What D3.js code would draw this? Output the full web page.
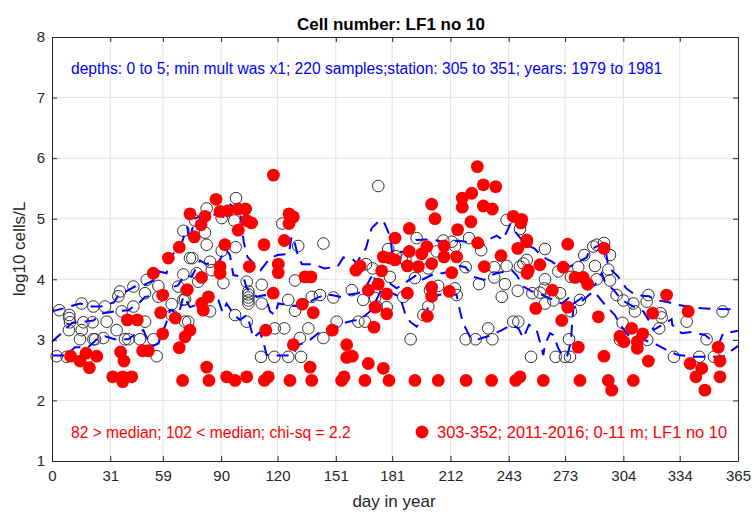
<!DOCTYPE html>
<html>
<head>
<meta charset="utf-8">
<script src="https://cdn.jsdelivr.net/npm/d3@7"></script>
<style>
body { margin: 0; background: #fff; }
text { font-family: "Liberation Sans", Arial, sans-serif; }
</style>
</head>
<body>
<div id="chart"></div>
<script>
// tick values
const xTicks = [0, 31, 59, 90, 120, 151, 181, 212, 243, 273, 304, 334, 365];
const yTicks = [1, 2, 3, 4, 5, 6, 7, 8];

// historical samples 1979-1981 [day, log10 cells/L]
const histPoints = [
    [3.9,3.49],[9.2,3.41],[9.6,3.29],[9.0,3.16],[9.2,3.36],[15.8,3.60],[16.7,3.29],[15.8,3.16],[14.9,3.01],
    [22.0,3.55],[21.6,3.29],[22.0,3.01],[22.9,3.01],[28.2,3.55],[29.1,3.30],[27.3,3.03],[34.4,3.16],
    [35.3,3.72],[36.2,3.80],[37.1,3.47],[40.6,3.01],[38.8,3.01],[43.3,3.88],[43.3,3.55],[46.8,3.01],
    [49.5,3.30],[50.4,3.99],[49.5,3.77],[53.9,3.01],[55.7,2.73],[56.6,3.89],[56.6,3.71],[63.7,3.59],
    [63.7,3.41],[67.2,3.88],[69.9,4.08],[70.8,3.30],[69.9,3.66],[69.9,4.80],[73.4,4.35],[2.5,2.73],
    [7.8,2.72],[19.3,2.72],
    [97.9,5.34],[82.3,5.17],[76.1,4.97],[90.3,5.01],[97.0,4.97],[81.4,4.77],[82.3,4.57],[90.3,4.47],
    [97.7,4.53],[74.7,4.35],[84.1,4.29],[85.0,4.15],[77.0,4.10],[77.8,3.96],[91.2,3.94],[71.6,3.82],
    [70.8,3.67],[84.1,3.47],[72.5,3.30],[97.4,3.41],[103.6,3.30],[104.5,3.80],[104.5,3.75],[104.5,3.70],
    [104.5,3.65],[104.5,3.60],[103.6,3.96],[111.6,3.91],[111.6,3.60],[118.6,3.19],[123.6,3.19],[111.2,2.72],
    [118.3,2.72],[125.7,2.72],[132.5,2.72],[122.5,4.92],[131.0,4.55],[129.3,3.98],[125.7,3.66],
    [129.3,3.48],[138.2,3.71],[142.6,3.74],[136.4,3.19],[144.4,4.59],[144.4,3.03],[131.9,3.03],
    [173.6,5.54],[194.0,4.68],[178.9,4.50],[186.1,4.35],[183.0,4.38],[188.0,4.33],[204.7,4.46],
    [208.2,4.64],[212.7,4.62],[214.4,4.55],[167.1,4.25],[170.6,4.18],[179.8,4.04],[193.1,4.02],
    [200.2,4.18],[201.1,3.82],[205.5,3.89],[214.4,3.85],[159.5,3.82],[149.7,3.70],[165.6,3.66],
    [186.9,3.71],[172.8,3.55],[200.2,3.55],[197.6,3.41],[151.5,3.30],[163.0,3.30],[166.5,3.30],
    [190.8,3.01],[171.9,3.69],[178.1,3.54],
    [241.9,4.98],[249.0,4.83],[221.9,4.68],[228.3,4.48],[262.3,4.50],[252.6,4.32],[250.8,4.26],
    [249.0,4.21],[241.9,4.22],[235.3,4.20],[220.1,4.20],[262.3,4.00],[269.4,4.13],[276.1,4.04],
    [283.2,4.40],[288.0,4.54],[280.0,4.20],[241.0,3.92],[235.3,4.03],[227.2,3.92],[215.3,3.74],
    [239.3,3.71],[247.8,3.81],[255.6,3.77],[259.6,3.78],[262.0,3.85],[262.3,3.60],[266.8,3.65],
    [270.3,3.77],[280.9,3.66],[276.1,3.47],[220.1,3.01],[225.4,3.01],[234.3,3.01],[232.1,3.19],
    [245.4,3.30],[248.1,3.30],[254.9,2.72],[268.0,2.72],[272.9,2.72],[275.6,2.72],[275.1,3.01],
    [289.8,4.57],[293.7,4.60],[296.9,4.40],[288.9,4.22],[296.0,4.16],[289.8,4.00],[296.9,3.98],
    [300.4,3.74],[304.0,3.65],[309.3,3.60],[310.2,3.47],[317.3,3.74],[316.4,3.63],[323.8,3.44],
    [324.4,3.37],[323.1,3.19],[316.7,3.00],[303.6,3.28],[302.2,3.00],[337.7,3.30],[348.3,3.01],
    [330.9,2.72],[344.4,2.72],[352.2,2.72],[356.8,3.47]
];

// samples 2011-2016 [day, log10 cells/L]
const newPoints = [
    [9.9,2.73],[14.9,2.65],[18.1,2.78],[19.9,2.54],[23.8,2.73],[32.3,2.39],[37.6,2.39],[37.6,2.31],
    [42.4,2.39],[36.5,2.80],[38.3,2.65],[40.1,3.33],[45.4,3.33],[48.2,2.82],[51.3,2.82],[53.9,4.10],
    [58.9,3.74],[57.8,3.45],[58.9,3.10],[61.9,4.35],[67.7,4.53],[65.6,3.36],[67.7,2.87],[69.5,2.33],
    [73.4,5.08],[72.0,3.83],[70.8,3.05],
    [117.8,5.72],[87.3,5.32],[81.4,5.04],[79.3,4.90],[89.4,5.12],[93.5,5.13],[99.1,5.16],[103.0,5.16],
    [103.6,4.97],[106.2,4.93],[99.1,4.81],[75.7,4.70],[92.0,4.57],[112.8,4.57],[123.6,4.64],[126.1,5.08],
    [128.4,5.03],[126.1,4.92],[89.4,4.21],[89.4,4.10],[105.0,4.21],[120.4,4.25],[120.4,4.11],[79.6,4.03],
    [134.6,4.04],[137.8,4.04],[83.2,3.71],[79.6,3.60],[80.5,3.49],[117.7,3.77],[133.2,3.59],[139.0,3.45],
    [113.7,3.16],[73.4,3.16],[128.4,2.92],[137.3,2.55],[82.3,2.55],[83.5,2.33],[92.9,2.39],[97.4,2.33],
    [103.6,2.39],[113.0,2.33],[115.1,2.39],[126.6,2.33],[138.2,2.33],
    [202.0,5.24],[203.8,5.00],[190.1,4.84],[182.5,4.68],[215.8,4.82],[215.3,4.37],[199.4,4.54],
    [208.6,4.55],[190.1,4.46],[196.7,4.42],[208.6,4.37],[176.3,4.37],[179.8,4.35],[182.5,4.32],
    [202.0,4.26],[163.9,4.22],[161.7,4.15],[175.4,4.14],[189.1,4.22],[194.9,4.21],[212.7,4.11],
    [173.6,3.92],[168.3,3.82],[202.0,3.87],[202.0,3.72],[211.4,3.80],[178.1,3.76],[189.1,3.77],
    [171.9,3.54],[178.1,3.43],[199.7,3.39],[171.3,3.21],[149.1,3.16],[156.8,2.92],[156.8,2.71],
    [159.8,2.73],[168.3,2.61],[176.3,2.53],[154.1,2.33],[155.4,2.39],[166.5,2.33],[179.3,2.33],
    [193.1,2.33],[205.5,2.33],
    [226.3,5.86],[229.5,5.56],[236.1,5.53],[223.3,5.42],[218.3,5.34],[218.3,5.19],[229.5,5.21],
    [234.3,5.16],[222.9,4.95],[245.4,5.04],[249.9,4.99],[249.5,4.93],[226.5,4.60],[252.6,4.65],
    [252.6,4.62],[247.8,4.51],[238.9,4.39],[274.4,4.58],[230.0,4.21],[259.6,4.24],[272.0,4.20],
    [253.4,4.15],[252.8,4.10],[278.3,4.03],[282.7,4.03],[285.0,3.92],[266.2,3.82],[274.4,3.54],
    [257.4,3.52],[271.2,3.32],[280.0,2.88],[220.3,2.33],[233.9,2.33],[246.7,2.33],[249.0,2.39],
    [261.4,2.33],[280.9,2.33],
    [293.7,4.51],[327.0,3.74],[319.6,3.44],[338.5,3.47],[290.7,3.38],[308.4,3.19],[302.2,3.06],
    [304.3,2.97],[314.3,3.10],[311.4,2.97],[311.4,2.86],[317.3,2.65],[293.7,2.73],[354.5,2.88],
    [355.4,2.65],[339.5,2.61],[345.7,2.53],[342.6,2.39],[355.4,2.39],[347.4,2.17],[309.3,2.33],
    [296.0,2.33],[297.8,2.17]
];

// dashed percentile lines [day, value]
const upperLine = [
    [0,3.47],[6,3.52],[15,3.6],[21,3.55],[26,3.55],[33,3.62],[35,3.72],[44,3.88],[48,3.89],[54,3.98],
    [57,4.13],[61,4.1],[62,4.32],[69,4.6],[72,4.87],[73,4.62],[76,5.0],[80,5.06],[85,5.08],[91,5.03],
    [95,5.23],[100,5.12],[102,4.62],[104,4.37],[111,4.15],[116,4.35],[120,4.4],[126,4.42],[127.5,4.71],
    [129,4.62],[131,4.37],[133,4.25],[139,4.25],[145,4.18],[152,4.21],[155,4.36],[160,4.33],[162,4.27],
    [167,4.51],[170,4.84],[174.5,4.98],[177,4.92],[180,4.7],[181,4.43],[187,4.46],[194,4.65],[201,4.66],
    [205,4.64],[210,4.6],[216,4.64],[222,4.61],[228,4.53],[232.5,4.66],[236.6,4.72],[240,4.65],
    [243.7,4.9],[246,4.8],[250,4.65],[252,4.57],[256.6,4.51],[261,4.37],[266,4.29],[271,4.18],
    [275.6,4.21],[284.5,4.36],[286,4.48],[293.3,4.6],[295,4.4],[296,4.2],[301,4.05],[305.5,3.85],
    [310.5,3.74],[317.6,3.72],[321,3.66],[328,3.62],[333,3.58],[338,3.55],[346,3.52],[365,3.5]
];
const medianLine = [
    [0,2.97],[5,3.11],[10.6,3.28],[17,3.3],[22,3.32],[27.3,3.44],[33.5,3.47],[41,3.49],[43,3.55],
    [46,3.6],[49.5,3.71],[56.6,3.74],[60,3.77],[62,3.85],[67,3.9],[70.8,4.07],[74.3,4.04],[78.7,4.31],
    [82.3,4.25],[86,4.3],[88,4.25],[92.4,4.5],[94.7,4.4],[95.6,4.22],[96.5,4.07],[101.8,4.04],
    [103.6,3.85],[108.9,3.71],[113.3,3.74],[116,3.47],[118.6,3.41],[120.4,3.6],[125.7,3.57],
    [132.8,3.55],[137.3,3.63],[140.7,3.69],[145,3.74],[148.8,3.74],[155,3.7],[158,3.75],[163,3.77],
    [166.5,3.85],[171,4.1],[172,3.96],[177.2,3.99],[183.4,3.85],[194,4.07],[196.7,3.99],[204,4.1],
    [208,4.1],[213.5,4.15],[217,4.22],[220,4.2],[224.2,4.04],[230,3.99],[233.9,4.07],[236.6,4.1],
    [244.6,4.15],[247.2,4.07],[250.8,3.88],[255.2,3.8],[257.9,3.78],[263.2,3.71],[271.2,3.6],
    [275.6,3.71],[277.4,3.6],[281.8,3.69],[284.5,3.82],[288.9,3.91],[292.5,4.1],[294.2,3.96],
    [299.5,3.8],[303,3.66],[309.3,3.55],[314.6,3.47],[318,3.3],[320,3.16],[329.7,3.34],[330,3.25],
    [335,3.11],[340.3,3.13],[347.4,3.08],[352,2.97],[355,2.95],[357,3.1],[365,3.15]
];
const lowerLine = [
    [0,2.74],[7.8,2.74],[12.2,2.88],[19.3,2.88],[24.6,3.03],[28.2,3.06],[33.5,3.01],[40.6,3.01],
    [45.4,3.12],[48.6,3.16],[50,3.06],[53,2.89],[56.6,2.94],[61,3.3],[62.8,3.49],[64.2,3.48],
    [67.2,3.39],[69.9,3.72],[73.4,3.54],[77.8,3.59],[85.8,3.74],[88.5,3.66],[90.8,3.45],[92.9,3.6],
    [96.5,3.43],[100,3.33],[103.6,3.41],[105.3,3.25],[107.1,3.03],[110.7,3.13],[112.4,2.97],
    [114.2,2.75],[119.5,2.74],[127.5,2.74],[131.6,2.92],[137.3,3.0],[141.7,3.11],[147,3.13],
    [154.1,3.27],[160.3,3.32],[163.9,3.33],[169.2,3.47],[173.1,3.69],[175.4,3.85],[185.2,3.71],
    [187.8,3.44],[190.5,3.3],[194,3.22],[195.8,3.3],[199.4,3.47],[201.1,3.63],[205.5,3.74],
    [210.9,3.77],[215.3,3.74],[217.1,3.47],[218.8,3.27],[222.4,3.05],[226.8,3.01],[233.9,3.08],
    [239.3,3.16],[244.6,3.25],[248.1,3.19],[250.8,3.03],[253.8,3.25],[257.9,3.16],[259.6,2.97],
    [261.4,2.75],[262.3,2.92],[265,3.11],[266.7,3.08],[269.4,2.86],[272,2.72],[274,2.72],[276.1,2.97],
    [276.8,3.3],[277.4,3.52],[282.7,3.66],[288,3.8],[290,3.74],[294.2,3.58],[299.5,3.41],[302.2,3.25],
    [306.6,3.08],[315,3.0],[321.7,2.92],[328.8,2.8],[333.2,2.75],[341.2,2.72],[352,2.72],[357,2.72],
    [365,2.9]
];

const width = 752;
const height = 519;
const margin = { top: 37, right: 14, bottom: 58, left: 52 };
const axisColor = "#262626";

const svg = d3.select("#chart")
    .append("svg")
    .attr("width", width)
    .attr("height", height);

svg.append("rect")
    .attr("width", width)
    .attr("height", height)
    .attr("fill", "#fff");

const x = d3.scaleLinear()
    .domain([0, 365])
    .range([margin.left, width - margin.right]);

const y = d3.scaleLinear()
    .domain([1, 8])
    .range([height - margin.bottom, margin.top]);

// grid
svg.append("g")
    .selectAll("line.gx")
    .data(xTicks.slice(1, -1))
    .enter()
    .append("line")
    .attr("x1", d => x(d)).attr("x2", d => x(d))
    .attr("y1", y(1)).attr("y2", y(8))
    .attr("stroke", "#e3e3e3");

svg.append("g")
    .selectAll("line.gy")
    .data(yTicks.slice(1, -1))
    .enter()
    .append("line")
    .attr("x1", x(0)).attr("x2", x(365))
    .attr("y1", d => y(d)).attr("y2", d => y(d))
    .attr("stroke", "#e3e3e3");

// historical samples
svg.append("g")
    .selectAll("circle")
    .data(histPoints)
    .enter()
    .append("circle")
    .attr("cx", d => x(d[0]))
    .attr("cy", d => y(d[1]))
    .attr("r", 5.8)
    .attr("fill", "none")
    .attr("stroke", "#333")
    .attr("stroke-width", 1);

// dashed lines
const line = d3.line()
    .x(d => x(d[0]))
    .y(d => y(d[1]));

[upperLine, medianLine, lowerLine].forEach(l => {
    svg.append("path")
        .datum(l)
        .attr("d", line)
        .attr("fill", "none")
        .attr("stroke", "#0000ff")
        .attr("stroke-width", 2)
        .attr("stroke-dasharray", "12,8");
});

// recent samples
svg.append("g")
    .selectAll("circle")
    .data(newPoints)
    .enter()
    .append("circle")
    .attr("cx", d => x(d[0]))
    .attr("cy", d => y(d[1]))
    .attr("r", 6.4)
    .attr("fill", "#ff0000");

// axes (box with inward ticks)
const fmt = d3.format("d");

const gx = svg.append("g")
    .attr("transform", `translate(0,${y(1)})`)
    .call(d3.axisBottom(x).tickValues(xTicks).tickSizeInner(-5).tickSizeOuter(0).tickPadding(9).tickFormat(fmt));

const gxt = svg.append("g")
    .attr("transform", `translate(0,${y(8)})`)
    .call(d3.axisTop(x).tickValues(xTicks).tickSizeInner(-5).tickSizeOuter(0).tickFormat(""));

const gy = svg.append("g")
    .attr("transform", `translate(${x(0)},0)`)
    .call(d3.axisLeft(y).tickValues(yTicks).tickSizeInner(-5).tickSizeOuter(0).tickPadding(7).tickFormat(fmt));

const gyr = svg.append("g")
    .attr("transform", `translate(${x(365)},0)`)
    .call(d3.axisRight(y).tickValues(yTicks).tickSizeInner(-5).tickSizeOuter(0).tickFormat(""));

[gx, gxt, gy, gyr].forEach(g => {
    g.selectAll("path").attr("stroke", axisColor);
    g.selectAll("line").attr("stroke", axisColor);
    g.selectAll("text")
        .attr("fill", axisColor)
        .style("font-size", "15px")
        .style("font-family", "'Liberation Sans', Arial, sans-serif");
});

// title and labels
svg.append("text")
    .attr("x", 391)
    .attr("y", 30)
    .attr("text-anchor", "middle")
    .attr("font-size", "17px")
    .attr("font-weight", "bold")
    .attr("fill", "#000")
    .text("Cell number: LF1 no 10");

svg.append("text")
    .attr("x", 394)
    .attr("y", 507)
    .attr("text-anchor", "middle")
    .attr("font-size", "17px")
    .attr("fill", axisColor)
    .text("day in year");

svg.append("text")
    .attr("transform", `translate(25,${(y(1) + y(8)) / 2}) rotate(-90)`)
    .attr("text-anchor", "middle")
    .attr("font-size", "17px")
    .attr("fill", axisColor)
    .text("log10 cells/L");

svg.append("text")
    .attr("x", 71)
    .attr("y", 74)
    .attr("font-size", "15.6px")
    .attr("fill", "#0000ff")
    .text("depths: 0 to 5; min mult was x1; 220 samples;station: 305 to 351; years: 1979 to 1981");

svg.append("text")
    .attr("x", 71)
    .attr("y", 438)
    .attr("font-size", "15.6px")
    .attr("fill", "#ff0000")
    .text("82 > median; 102 < median; chi-sq = 2.2");

svg.append("circle")
    .attr("cx", 422)
    .attr("cy", 432)
    .attr("r", 6.4)
    .attr("fill", "#ff0000");

svg.append("text")
    .attr("x", 437)
    .attr("y", 438)
    .attr("font-size", "16.5px")
    .attr("fill", "#ff0000")
    .text("303-352; 2011-2016; 0-11 m; LF1 no 10");
</script>
</body>
</html>
